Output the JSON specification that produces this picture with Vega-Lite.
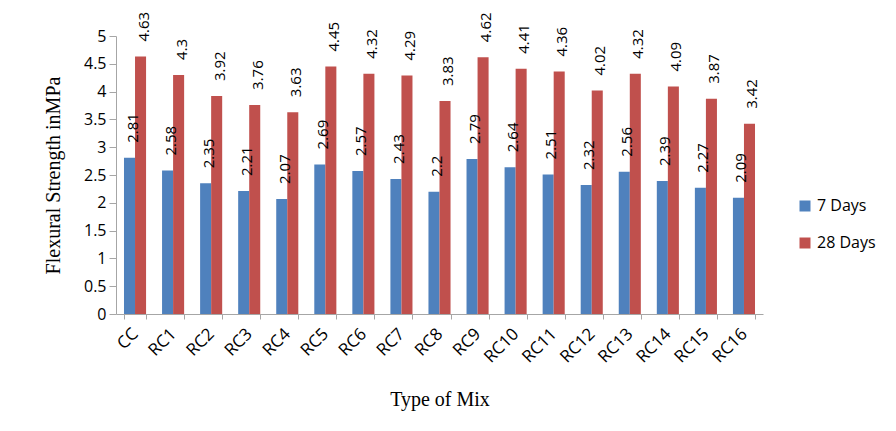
{
  "$schema": "https://vega.github.io/schema/vega-lite/v6.json",
  "width": 647,
  "height": 278,
  "autosize": "none",
  "padding": {"left": 116, "top": 36, "right": 133, "bottom": 117},
  "background": "white",
  "data": {
    "values": [
      {"mix": "CC", "age": "7 Days", "value": 2.81}, {"mix": "CC", "age": "28 Days", "value": 4.63},
      {"mix": "RC1", "age": "7 Days", "value": 2.58}, {"mix": "RC1", "age": "28 Days", "value": 4.3},
      {"mix": "RC2", "age": "7 Days", "value": 2.35}, {"mix": "RC2", "age": "28 Days", "value": 3.92},
      {"mix": "RC3", "age": "7 Days", "value": 2.21}, {"mix": "RC3", "age": "28 Days", "value": 3.76},
      {"mix": "RC4", "age": "7 Days", "value": 2.07}, {"mix": "RC4", "age": "28 Days", "value": 3.63},
      {"mix": "RC5", "age": "7 Days", "value": 2.69}, {"mix": "RC5", "age": "28 Days", "value": 4.45},
      {"mix": "RC6", "age": "7 Days", "value": 2.57}, {"mix": "RC6", "age": "28 Days", "value": 4.32},
      {"mix": "RC7", "age": "7 Days", "value": 2.43}, {"mix": "RC7", "age": "28 Days", "value": 4.29},
      {"mix": "RC8", "age": "7 Days", "value": 2.2}, {"mix": "RC8", "age": "28 Days", "value": 3.83},
      {"mix": "RC9", "age": "7 Days", "value": 2.79}, {"mix": "RC9", "age": "28 Days", "value": 4.62},
      {"mix": "RC10", "age": "7 Days", "value": 2.64}, {"mix": "RC10", "age": "28 Days", "value": 4.41},
      {"mix": "RC11", "age": "7 Days", "value": 2.51}, {"mix": "RC11", "age": "28 Days", "value": 4.36},
      {"mix": "RC12", "age": "7 Days", "value": 2.32}, {"mix": "RC12", "age": "28 Days", "value": 4.02},
      {"mix": "RC13", "age": "7 Days", "value": 2.56}, {"mix": "RC13", "age": "28 Days", "value": 4.32},
      {"mix": "RC14", "age": "7 Days", "value": 2.39}, {"mix": "RC14", "age": "28 Days", "value": 4.09},
      {"mix": "RC15", "age": "7 Days", "value": 2.27}, {"mix": "RC15", "age": "28 Days", "value": 3.87},
      {"mix": "RC16", "age": "7 Days", "value": 2.09}, {"mix": "RC16", "age": "28 Days", "value": 3.42}
    ]
  },
  "encoding": {
    "x": {
      "field": "mix",
      "type": "nominal",
      "sort": null,
      "scale": {"paddingInner": 0.42, "paddingOuter": 0.21},
      "axis": {
        "title": "Type of Mix",
        "titleFont": "Liberation Serif",
        "titleFontSize": 20,
        "titleFontWeight": "normal",
        "titleColor": "black",
        "titlePadding": 24,
        "labelAngle": -45,
        "labelAlign": "right",
        "labelBaseline": "middle",
        "labelFont": "Open Sans",
        "labelFontSize": 17,
        "labelColor": "black",
        "labelPadding": 12,
        "tickBand": "extent",
        "tickSize": 5,
        "tickColor": "#a6a6a6",
        "domainColor": "#a6a6a6",
        "grid": false
      }
    },
    "xOffset": {"field": "age", "type": "nominal", "sort": ["7 Days", "28 Days"]},
    "y": {
      "field": "value",
      "type": "quantitative",
      "scale": {"domain": [0, 5], "nice": false},
      "axis": {
        "title": "Flexural Strength inMPa",
        "titleFont": "Liberation Serif",
        "titleFontSize": 20,
        "titleFontWeight": "normal",
        "titleColor": "black",
        "titlePadding": 20,
        "values": [0, 0.5, 1, 1.5, 2, 2.5, 3, 3.5, 4, 4.5, 5],
        "format": "~g",
        "labelFont": "Open Sans",
        "labelFontSize": 16,
        "labelColor": "black",
        "labelPadding": 3,
        "tickSize": 7,
        "tickColor": "#a6a6a6",
        "domainColor": "#a6a6a6",
        "grid": false
      }
    }
  },
  "layer": [
    {
      "mark": {"type": "bar"},
      "encoding": {
        "color": {
          "field": "age",
          "type": "nominal",
          "sort": ["7 Days", "28 Days"],
          "scale": {"domain": ["7 Days", "28 Days"], "range": ["#4F81BD", "#C0504D"]},
          "legend": {
            "title": null,
            "orient": "none",
            "legendX": 681,
            "legendY": 162,
            "symbolType": "square",
            "symbolSize": 121,
            "symbolStrokeWidth": 0,
            "symbolOpacity": 1,
            "labelFont": "Open Sans",
            "labelFontSize": 16,
            "labelColor": "black",
            "rowPadding": 21
          }
        }
      }
    },
    {
      "mark": {
        "type": "text",
        "angle": -90,
        "align": "left",
        "baseline": "middle",
        "dx": 15,
        "dy": 3,
        "font": "Open Sans",
        "fontSize": 15,
        "color": "black"
      },
      "encoding": {"text": {"field": "value", "type": "quantitative"}}
    }
  ],
  "config": {"view": {"stroke": null}}
}
